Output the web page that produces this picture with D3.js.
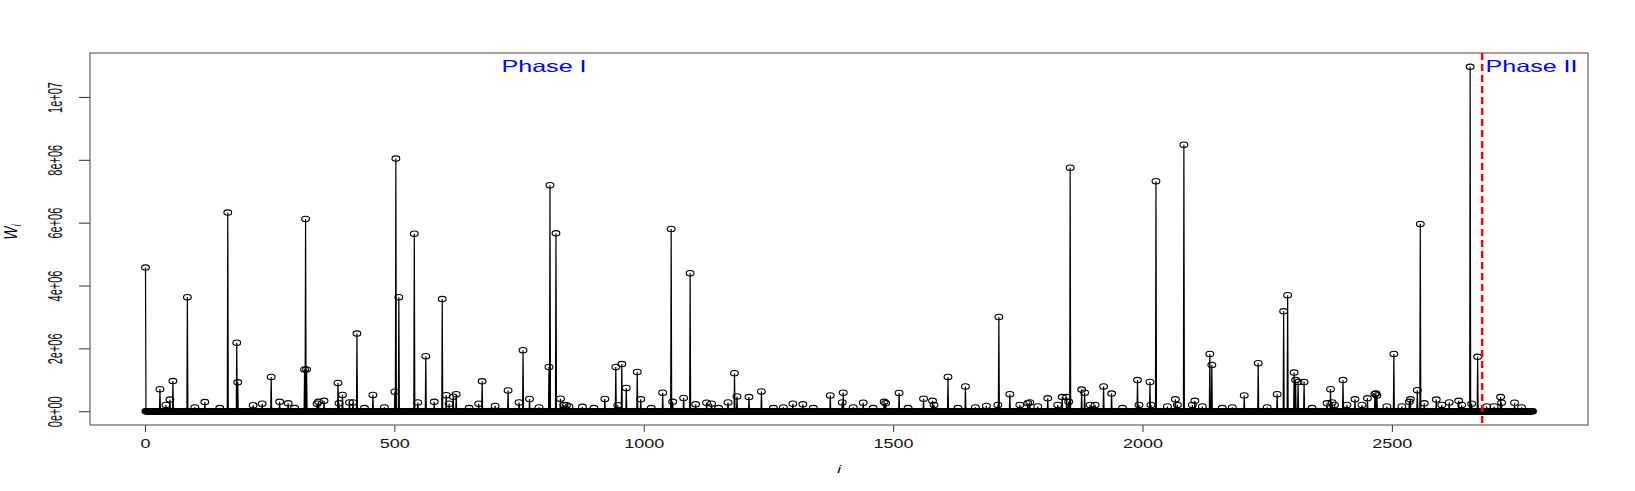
<!DOCTYPE html>
<html>
<head>
<meta charset="utf-8">
<script src="https://cdn.jsdelivr.net/npm/d3@7"></script>
<style>
  body { margin: 0; background: #fff; }
  text { font-family: "Liberation Sans", Arial, Helvetica, sans-serif; }
</style>
</head>
<body>
<script>
const width = 1635;
const height = 491;
const margin = {left: 90, right: 47, top: 53, bottom: 66};

// number of observations, and where Phase II starts
const nObs = 2782;
const phaseSplit = 2681;

// large spikes (index i, value W_i)
const bigIdx = [1, 85, 166, 184, 253, 322, 320, 324, 425, 503, 509, 540, 563, 596, 758, 810, 812, 824,
    944, 956, 987, 1055, 1093, 1182, 1610, 1712, 1855, 2027, 2083, 2135, 2139, 2232, 2283, 2291,
    2304, 2504, 2557, 2657, 2672];
const bigVal = [4.57e6, 3.63e6, 6.32e6, 2.18e6, 1.09e6, 6.12e6, 1.33e6, 1.33e6, 2.47e6, 8.04e6, 3.63e6, 5.65e6,
    1.75e6, 3.57e6, 1.94e6, 1.41e6, 7.19e6, 5.66e6, 1.41e6, 1.50e6, 1.25e6, 5.80e6, 4.39e6, 1.21e6,
    1.09e6, 3.00e6, 7.75e6, 7.32e6, 8.48e6, 1.82e6, 1.47e6, 1.53e6, 3.18e6, 3.69e6, 1.23e6, 1.82e6,
    5.96e6, 10.96e6, 1.73e6];

// smaller bumps along the bottom
const smallIdx = [30, 42, 50, 56, 100, 120, 150, 186, 217, 235, 270, 287, 300, 345, 348, 359, 387, 389,
    396, 410, 417, 440, 457, 480, 501, 547, 580, 604, 610, 618, 624, 650, 669, 676, 702, 728, 750, 771,
    790, 833, 840, 845, 850, 877, 900, 922, 948, 965, 994, 1015, 1038, 1058, 1080, 1104, 1126, 1136,
    1150, 1169, 1187, 1211, 1236, 1260, 1280, 1299, 1319, 1340, 1374, 1398, 1400, 1420, 1440, 1460,
    1482, 1485, 1512, 1530, 1561, 1579, 1582, 1630, 1645, 1665, 1687, 1710, 1734, 1754, 1770, 1774,
    1790, 1810, 1830, 1839, 1848, 1852, 1878, 1884, 1895, 1905, 1922, 1938, 1960, 1990, 1993, 2015,
    2017, 2050, 2066, 2070, 2100, 2105, 2120, 2160, 2180, 2204, 2250, 2270, 2307, 2312, 2324, 2340,
    2370, 2377, 2380, 2385, 2402, 2410, 2426, 2440, 2451, 2466, 2468, 2470, 2490, 2520, 2535, 2537,
    2551, 2565, 2589, 2600, 2615, 2634, 2640, 2660, 2690, 2705, 2718, 2720, 2746, 2760];
const smallVal = [0.70e6, 0.20e6, 0.37e6, 0.96e6, 0.12e6, 0.29e6, 0.10e6, 0.92e6, 0.19e6, 0.24e6, 0.30e6,
    0.25e6, 0.10e6, 0.24e6, 0.30e6, 0.33e6, 0.90e6, 0.25e6, 0.52e6, 0.28e6, 0.28e6, 0.10e6, 0.52e6,
    0.12e6, 0.62e6, 0.28e6, 0.30e6, 0.51e6, 0.24e6, 0.46e6, 0.54e6, 0.10e6, 0.24e6, 0.95e6, 0.17e6,
    0.66e6, 0.28e6, 0.39e6, 0.12e6, 0.40e6, 0.20e6, 0.19e6, 0.15e6, 0.14e6, 0.10e6, 0.39e6, 0.19e6,
    0.74e6, 0.38e6, 0.10e6, 0.59e6, 0.30e6, 0.42e6, 0.22e6, 0.27e6, 0.24e6, 0.10e6, 0.28e6, 0.47e6,
    0.45e6, 0.63e6, 0.10e6, 0.12e6, 0.24e6, 0.22e6, 0.10e6, 0.50e6, 0.28e6, 0.59e6, 0.12e6, 0.27e6,
    0.10e6, 0.30e6, 0.25e6, 0.58e6, 0.10e6, 0.40e6, 0.33e6, 0.20e6, 0.10e6, 0.79e6, 0.12e6, 0.17e6,
    0.20e6, 0.54e6, 0.20e6, 0.25e6, 0.28e6, 0.15e6, 0.41e6, 0.20e6, 0.45e6, 0.45e6, 0.30e6, 0.69e6,
    0.59e6, 0.20e6, 0.20e6, 0.79e6, 0.56e6, 0.10e6, 0.99e6, 0.20e6, 0.93e6, 0.20e6, 0.15e6, 0.38e6,
    0.20e6, 0.20e6, 0.33e6, 0.15e6, 0.10e6, 0.12e6, 0.50e6, 0.12e6, 0.54e6, 0.99e6, 0.93e6, 0.93e6,
    0.10e6, 0.25e6, 0.70e6, 0.28e6, 0.20e6, 0.99e6, 0.20e6, 0.38e6, 0.20e6, 0.41e6, 0.55e6, 0.56e6,
    0.50e6, 0.15e6, 0.15e6, 0.30e6, 0.38e6, 0.67e6, 0.25e6, 0.37e6, 0.20e6, 0.28e6, 0.33e6, 0.20e6,
    0.24e6, 0.15e6, 0.15e6, 0.45e6, 0.27e6, 0.27e6, 0.12e6];

const xTicks = [0, 500, 1000, 1500, 2000, 2500];
const yTicks = [0, 2e6, 4e6, 6e6, 8e6, 1e7];
const yTickLabels = ['0e+00', '2e+06', '4e+06', '6e+06', '8e+06', '1e+07'];
const phaseLabels = [{i: 800, text: 'Phase I'}, {i: 2780, text: 'Phase II'}];
const phaseLabelY = 1.1e7;

// build the series: everything not read as a bump sits on zero
let series = [];
for (let i = 1; i <= nObs; i++) {
    series.push({i: i, w: 0});
}
smallIdx.forEach((idx, k) => { series[idx - 1].w = smallVal[k]; });
bigIdx.forEach((idx, k) => { series[idx - 1].w = bigVal[k]; });

const svg = d3.select('body').append('svg')
    .attr('width', width)
    .attr('height', height);

// R style 4% padding on both axes
const xMin = 1, xMax = nObs;
const xPad = 0.04 * (xMax - xMin);
const xScale = d3.scaleLinear()
    .domain([xMin - xPad, xMax + xPad])
    .range([margin.left, width - margin.right]);

const yExt = d3.extent(series, d => d.w);
const yPad = 0.04 * (yExt[1] - yExt[0]);
const yScale = d3.scaleLinear()
    .domain([yExt[0] - yPad, yExt[1] + yPad])
    .range([height - margin.bottom, margin.top]);

const plotBottom = height - margin.bottom;

// x axis
const xAxis = d3.axisBottom(xScale)
    .tickValues(xTicks)
    .tickFormat(d3.format('d'))
    .tickSize(7);
const xGroup = svg.append('g')
    .attr('transform', `translate(0, ${plotBottom})`)
    .call(xAxis);
xGroup.select('.domain').remove();
xGroup.selectAll('line').attr('stroke', '#333');
xGroup.selectAll('text')
    .attr('y', 23)
    .attr('dy', null)
    .attr('font-size', 12)
    .attr('fill', '#111')
    .attr('transform', 'scale(1.5,1)');

// y axis
const yAxis = d3.axisLeft(yScale)
    .tickValues(yTicks)
    .tickFormat((d, k) => yTickLabels[k])
    .tickSize(11);
const yGroup = svg.append('g')
    .attr('transform', `translate(${margin.left}, 0)`)
    .call(yAxis);
yGroup.select('.domain').remove();
yGroup.selectAll('line').attr('stroke', '#333');
yGroup.selectAll('text')
    .attr('x', 0)
    .attr('dy', null)
    .attr('text-anchor', 'middle')
    .attr('font-size', 11)
    .attr('fill', '#111')
    .attr('transform', 'translate(-28.5, 0) scale(1.8,1) rotate(-90)');

// plot box
svg.append('rect')
    .attr('x', margin.left)
    .attr('y', margin.top)
    .attr('width', width - margin.left - margin.right)
    .attr('height', plotBottom - margin.top)
    .attr('fill', 'none')
    .attr('stroke', '#444')
    .attr('stroke-width', 1);

// series line
const line = d3.line()
    .x(d => xScale(d.i))
    .y(d => yScale(d.w));

svg.append('path')
    .datum(series)
    .attr('d', line)
    .attr('fill', 'none')
    .attr('stroke', '#000')
    .attr('stroke-width', 1.2);

// open circles at every point
svg.append('g')
    .selectAll('ellipse')
    .data(series)
    .enter()
    .append('ellipse')
    .attr('cx', d => xScale(d.i))
    .attr('cy', d => yScale(d.w))
    .attr('rx', 3.9)
    .attr('ry', 2.7)
    .attr('fill', 'none')
    .attr('stroke', '#000')
    .attr('stroke-width', 1.1);

// Phase II boundary
svg.append('line')
    .attr('x1', xScale(phaseSplit))
    .attr('x2', xScale(phaseSplit))
    .attr('y1', margin.top)
    .attr('y2', plotBottom)
    .attr('stroke', '#ff0000')
    .attr('stroke-width', 2.5)
    .attr('stroke-dasharray', '7,4');

svg.selectAll('.phase')
    .data(phaseLabels)
    .enter()
    .append('text')
    .attr('class', 'phase')
    .attr('transform', d => `translate(${xScale(d.i)}, ${yScale(phaseLabelY)}) scale(1.54,1)`)
    .attr('dy', '0.4em')
    .attr('text-anchor', 'middle')
    .attr('font-size', 16.3)
    .attr('fill', '#0000ff')
    .text(d => d.text);

// axis titles
drawLabels(svg);

function drawLabels(surface) {
    const midX = (margin.left + width - margin.right) / 2;
    surface.append('text')
        .attr('transform', `translate(${midX}, 473) scale(1.5,1)`)
        .attr('text-anchor', 'middle')
        .attr('font-size', 11)
        .attr('font-style', 'italic')
        .text('i');

    const yLab = surface.append('text')
        .attr('transform', `translate(17, 232) scale(1.3,1) rotate(-90)`)
        .attr('text-anchor', 'middle')
        .attr('font-size', 14)
        .attr('font-style', 'italic');
    yLab.append('tspan').text('W');
    yLab.append('tspan')
        .attr('font-size', 10)
        .attr('dy', '0.3em')
        .text('i');
}
</script>
</body>
</html>
